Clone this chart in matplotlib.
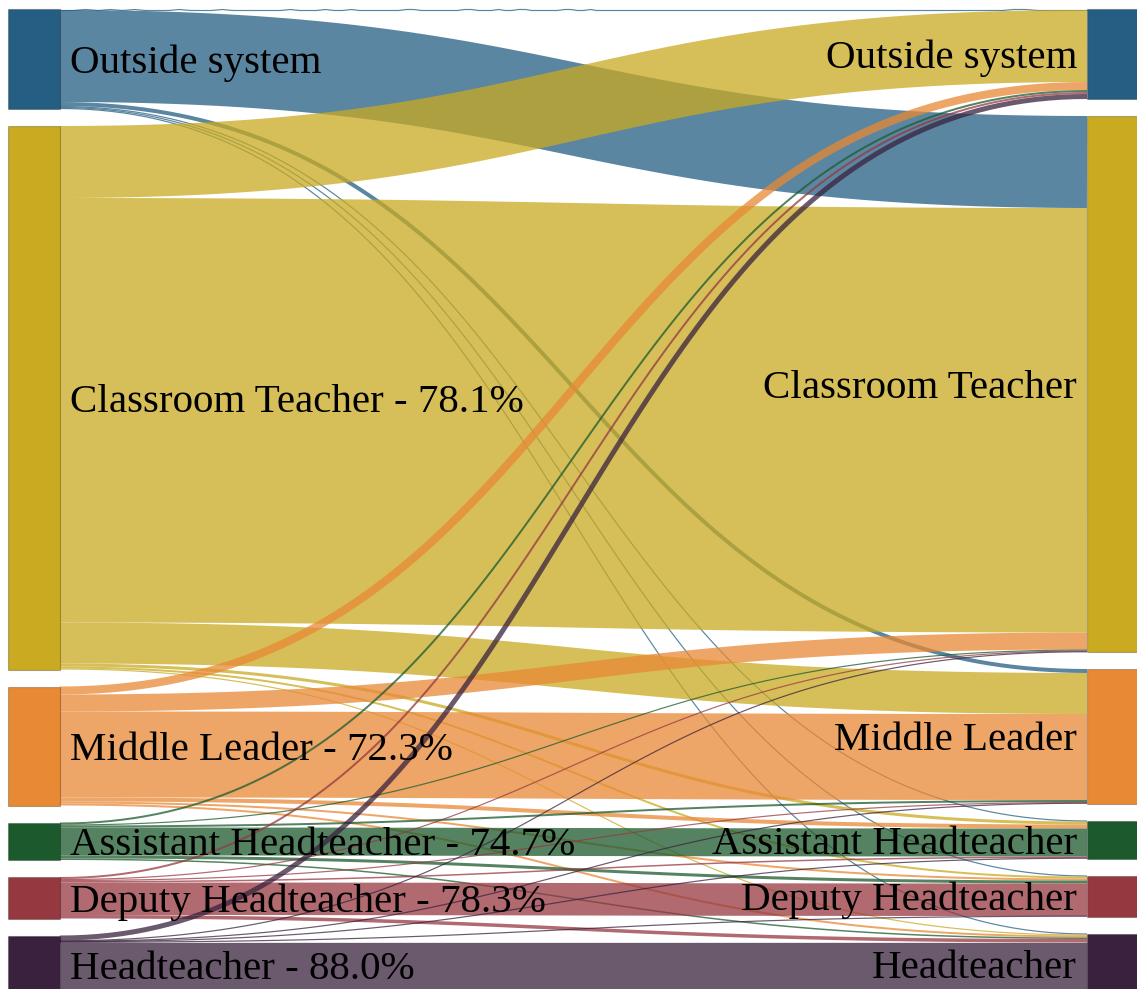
import numpy as np
import matplotlib.pyplot as plt
from matplotlib.patches import Rectangle

# career stages, same order on both sides
stages = ["Outside system", "Classroom Teacher", "Middle Leader",
          "Assistant Headteacher", "Deputy Headteacher", "Headteacher"]
node_colors = ["#245E82", "#C9AA20", "#E88934", "#1C5A2D", "#963840", "#3A223E"]

# flows from stage in year 1 (rows) to stage in year 2 (columns)
from_outside = [1, 92, 4, 1, 1, 1]
from_classroom = [72, 424.5, 41, 3, 2, 1]
from_middle = [8, 17, 86, 4, 2, 2]
from_assistant = [2, 1, 2, 28, 3, 1.5]
from_deputy = [2, 1, 1, 1.5, 32.5, 3.5]
from_head = [5, 0.5, 0.5, 0.5, 0.5, 51.3]

flows = np.array([from_outside, from_classroom, from_middle,
                  from_assistant, from_deputy, from_head])

W, H = 1137, 989
fig = plt.figure(figsize=(W / 100, H / 100), dpi=100)
ax = fig.add_axes([0, 0, 1, 1])
ax.set_xlim(0, W)
ax.set_ylim(H, 0)
ax.axis("off")

top = 9
gap = 17
node_w = 52
xl0, xr0 = 8, 1087          # left edges of the two node columns
xl1 = xl0 + node_w
px = 72 / fig.dpi           # points per pixel, for stroke widths

left_tot = flows.sum(axis=1)
right_tot = flows.sum(axis=0)


def stack(totals):
    ys = []
    y = top
    for t in totals:
        ys.append(y)
        y += t + gap
    return np.array(ys)


left_y = stack(left_tot)
right_y = stack(right_tot)


def link_curve(ys, yt, n=120):
    # horizontal cubic bezier, control points halfway across
    xm = (xl1 + xr0) / 2
    t = np.linspace(0, 1, n)
    a, b, c, d = (1 - t) ** 3, 3 * (1 - t) ** 2 * t, 3 * (1 - t) * t ** 2, t ** 3
    x = a * xl1 + b * xm + c * xm + d * xr0
    y = a * ys + b * ys + c * yt + d * yt
    return x, y


# offsets of each link inside its source and target nodes
n = len(stages)
src_off = np.zeros((n, n))
dst_off = np.zeros((n, n))
for i in range(n):
    y = left_y[i]
    for j in range(n):
        src_off[i, j] = y
        y += flows[i, j]
for j in range(n):
    y = right_y[j]
    for i in range(n):
        dst_off[i, j] = y
        y += flows[i, j]

for i in range(n):
    for j in range(n):
        w = flows[i, j]
        if w <= 0:
            continue
        x, y = link_curve(src_off[i, j] + w / 2, dst_off[i, j] + w / 2)
        ax.plot(x, y, color=node_colors[i], alpha=0.75,
                linewidth=max(w, 1.2) * px, solid_capstyle="butt", zorder=1)

for i in range(n):
    ax.add_patch(Rectangle((xl0, left_y[i]), node_w, left_tot[i],
                           facecolor=node_colors[i], edgecolor="#00000040",
                           linewidth=0.8, zorder=3))
    ax.add_patch(Rectangle((xr0, right_y[i]), node_w, right_tot[i],
                           facecolor=node_colors[i], edgecolor="#00000040",
                           linewidth=0.8, zorder=3))

font = dict(family="Liberation Serif", fontsize=29.5, color="black", zorder=4)
for i, name in enumerate(stages):
    label = name
    if i > 0:
        label = f"{name} - {100 * flows[i, i] / left_tot[i]:.1f}%"
    ax.text(xl1 + 10, left_y[i] + left_tot[i] / 2, label,
            ha="left", va="center_baseline", **font)
    ax.text(xr0 - 10, right_y[i] + right_tot[i] / 2, name,
            ha="right", va="center_baseline", **font)

fig.savefig("out.png", dpi=100)
